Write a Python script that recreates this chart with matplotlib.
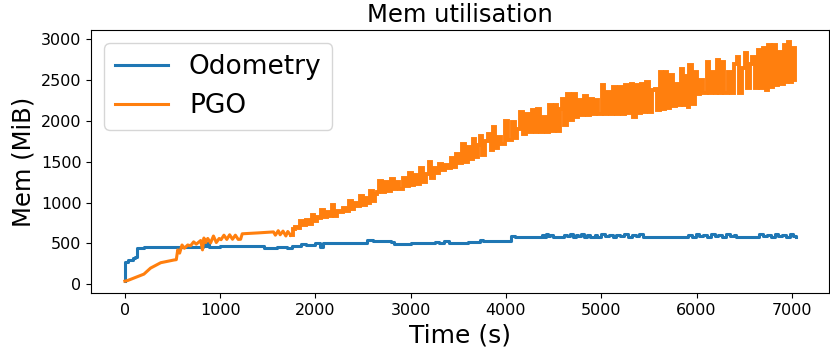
import matplotlib
matplotlib.use("Agg")
import matplotlib.pyplot as plt

title = "Mem utilisation"
xlabel = "Time (s)"
ylabel = "Mem (MiB)"
series_names = ["Odometry", "PGO"]
xticks = [0, 1000, 2000, 3000, 4000, 5000, 6000, 7000]
yticks = [0, 500, 1000, 1500, 2000, 2500, 3000]

odo_time = [0, 5, 30, 60, 90, 110, 125, 200, 400, 600, 800, 820, 840, 860, 880, 1000,
            1200, 1400, 1460, 1500, 1600, 1700, 1750, 1850, 1900, 2000, 2050, 2080, 2200,
            2400, 2540, 2600, 2700, 2790, 2820, 2960, 3000, 3130, 3200, 3250, 3300, 3350,
            3400, 3500, 3600, 3730, 3760, 4040, 4050, 4100, 4356, 4380, 4400, 4420, 4440,
            4460, 4492, 4583, 4610, 4640, 4670, 4700, 4730, 4760, 4790, 4820, 4850, 4880,
            4930, 4960, 5000, 5040, 5080, 5120, 5160, 5200, 5240, 5280, 5320, 5360, 5400,
            5435, 5874, 5910, 5950, 5990, 6030, 6070, 6110, 6150, 6190, 6230, 6270, 6310,
            6350, 6390, 6419, 6628, 6660, 6700, 6740, 6780, 6820, 6860, 6900, 6940, 6980,
            7010, 7040]
odo_mem = [37, 275, 290, 300, 320, 330, 440, 450, 455, 455, 460, 505, 470, 500, 460, 465,
           470, 465, 445, 440, 450, 445, 470, 490, 480, 505, 460, 505, 510,
           505, 535, 530, 525, 520, 490, 490, 502, 502, 510, 520, 502, 525,
           505, 510, 520, 540, 530, 530, 590, 577, 577, 600, 580, 610, 585,
           605, 577, 577, 605, 585, 610, 580, 600, 585, 612, 580, 605, 577,
           600, 580, 610, 585, 600, 578, 608, 585, 610, 580, 600, 585, 610,
           577, 577, 605, 582, 612, 585, 600, 580, 610, 585, 605, 580, 612,
           585, 600, 577, 577, 610, 585, 600, 580, 612, 585, 605, 580, 610,
           585, 575]

pgo_time = [0, 30, 95, 200, 270, 377, 515, 540, 555, 575, 600, 625, 660, 690, 722, 750,
            796, 815, 830, 850, 870, 900, 930, 960, 990, 1010, 1040, 1070, 1100, 1130,
            1160, 1190, 1215, 1232, 1400, 1560, 1580, 1610, 1630, 1660, 1690, 1710, 1740,
            1760, 1790, 1825, 1843, 1870, 1900, 1930, 1960, 1990, 2020, 2052, 2060, 2090,
            2120, 2150, 2175, 2200, 2230, 2262, 2290, 2320, 2350, 2380, 2410, 2440, 2470,
            2500, 2530, 2555, 2576, 2600, 2630, 2646, 2670, 2700, 2730, 2760, 2790, 2820,
            2850, 2880, 2920, 2950, 2980, 3010, 3040, 3070, 3100, 3130, 3160, 3188, 3210,
            3240, 3270, 3300, 3330, 3360, 3390, 3420, 3450, 3480, 3510, 3540, 3570, 3600,
            3630, 3650, 3680, 3710, 3728, 3750, 3780, 3815, 3840, 3860, 3890, 3920, 3950,
            3990, 4020, 4060, 4090, 4120, 4150, 4180, 4210, 4240, 4270, 4300, 4330, 4360,
            4390, 4420, 4450, 4480, 4510, 4540, 4565, 4586, 4610, 4640, 4670, 4700, 4730,
            4760, 4790, 4820, 4850, 4880, 4910, 4940, 4970, 5005, 5030, 5060, 5090, 5120,
            5150, 5190, 5220, 5250, 5280, 5310, 5330, 5360, 5390, 5420, 5450, 5470, 5500,
            5530, 5560, 5590, 5612, 5640, 5665, 5690, 5720, 5750, 5780, 5810, 5835, 5860,
            5890, 5906, 5920, 5950, 5980, 6010, 6040, 6070, 6105, 6130, 6160, 6190, 6210,
            6240, 6265, 6290, 6335, 6360, 6390, 6420, 6450, 6480, 6510, 6530, 6560, 6585,
            6610, 6640, 6670, 6700, 6730, 6750, 6780, 6800, 6835, 6860, 6890, 6920, 6940,
            6965, 6985, 7000, 7030]
pgo_mem = [37, 45, 75, 123, 197, 263, 296, 300, 420, 380, 480, 440, 480, 470, 518, 490,
           535, 420, 565, 510, 560, 505, 590, 510, 560, 545, 600, 548, 605, 550,
           600, 548, 550, 617, 628, 640, 600, 655, 605, 650, 590, 645, 600,
           670, 700, 690, 770, 728, 780, 740, 852, 770, 820, 811, 913, 820,
           880, 830, 975, 840, 900, 880, 934, 895, 1016, 920, 1000, 960, 1078,
           970, 1050, 1000, 1140, 1016, 1100, 1130, 1263, 1130, 1250, 1140, 1284, 1160,
           1250, 1170, 1304, 1200, 1360, 1220, 1340, 1230, 1428, 1250, 1350, 1490, 1300,
           1420, 1360, 1469, 1400, 1460, 1420, 1551, 1436, 1593, 1480, 1716, 1490, 1680,
           1530, 1778, 1560, 1700, 1819, 1580, 1750, 1840, 1640, 1922, 1670, 1800, 1716,
           2004, 1760, 1983, 1790, 1900, 2107, 1840, 2080, 1860, 2127, 1860, 2148, 1860,
           2050, 1865, 2189, 1870, 2189, 1880, 2148, 2272, 1950, 2333, 2010, 2333, 2045,
           2250, 2066, 2300, 2066, 2272, 2080, 2250, 2086, 2436, 2086, 2350, 2086, 2416,
           2086, 2416, 2090, 2440, 2095, 2450, 2045, 2436, 2100, 2457, 2107, 2477, 2110,
           2380, 2395, 2130, 2601, 2150, 2601, 2160, 2560, 2180, 2450, 2190, 2633, 2200,
           2550, 2175, 2683, 2210, 2601, 2333, 2500, 2340, 2724, 2345, 2600, 2345, 2745,
           2345, 2724, 2345, 2601, 2345, 2700, 2786, 2346, 2650, 2827, 2400, 2700, 2786,
           2400, 2870, 2400, 2890, 2380, 2930, 2410, 2930, 2436, 2848, 2450, 2930, 2478,
           2965, 2480, 2889, 2500]

# the ramp-up phase is drawn as a plain line, the spiky phase as steps
k = pgo_time.index(1740)

fig = plt.figure(figsize=(8.30, 3.54), dpi=100)
ax = fig.add_axes([0.110, 0.172, 0.889, 0.743])
ax.plot(odo_time, odo_mem, color="#1f77b4", lw=2.2, drawstyle="steps-post",
        label=series_names[0])
ax.plot(pgo_time[:k + 1], pgo_mem[:k + 1], color="#ff7f0e", lw=2.2,
        label=series_names[1])
ax.plot(pgo_time[k:], pgo_mem[k:], color="#ff7f0e", lw=2.8,
        drawstyle="steps-post", solid_joinstyle="miter")
ax.set_xticks(xticks)
ax.set_yticks(yticks)
ax.tick_params(labelsize=11.5)
ax.set_title(title, fontsize=17.5)
ax.set_xlabel(xlabel, fontsize=18)
ax.set_ylabel(ylabel, fontsize=17.5)
ax.legend(loc="upper left", fontsize=19)
fig.savefig("out.png", dpi=100)
